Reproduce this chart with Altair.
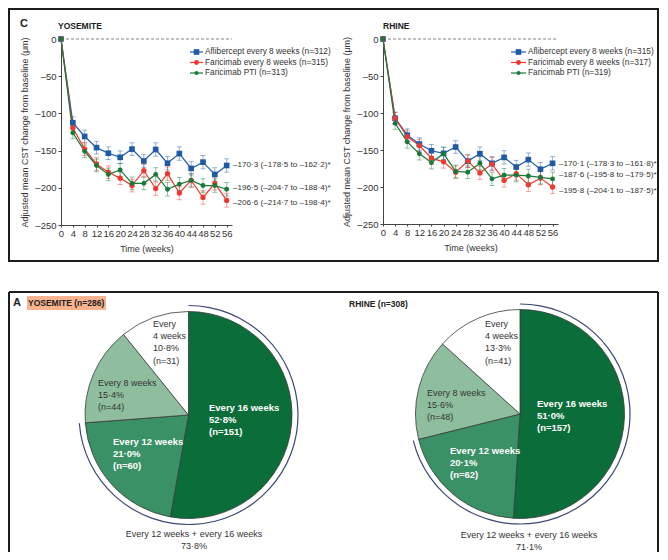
import altair as alt
import pandas as pd

FONT = "Liberation Sans Narrow, Liberation Sans, Arial"

weeks = [0, 4, 8, 12, 16, 20, 24, 28, 32, 36, 40, 44, 48, 52, 56]
series_keys = ["afl", "far", "pti"]
series_colors = ["#1f5aa6", "#ec3a2e", "#18793a"]

# YOSEMITE – adjusted mean CST change from baseline (µm)
yos_afl = [0, -112.5, -131, -146, -153.5, -159, -148, -164, -148.5, -167, -154, -174, -165.5, -182, -170]
yos_far = [0, -119.5, -148, -168, -179, -187, -197, -177, -201, -181, -207, -190, -213, -194, -217]
yos_pti = [0, -126, -151, -170, -182, -176, -194, -194, -182, -202, -195, -190, -197, -197, -202]
yos_err = [0, 8, 8.5, 8.5, 8.5, 8.5, 8.5, 8.5, 9, 9, 9, 9, 9, 9, 9]

# RHINE
rhi_afl = [0, -107, -130, -142, -151, -154.5, -146, -165, -155, -168, -160, -173, -163, -176, -168]
rhi_far = [0, -107, -132, -144, -161, -166, -180, -165, -181, -169, -191, -182, -197, -188, -200]
rhi_pti = [0, -114, -139, -155, -167, -155, -179, -180, -168, -189, -184, -184, -185, -187, -189]
rhi_err = [0, 8, 8.5, 8.5, 8.5, 8.5, 8.5, 8.5, 9, 9, 9, 9, 9, 9, 9]

yos_legend = ["Aflibercept every 8 weeks (n=312)", "Faricimab every 8 weeks (n=315)", "Faricimab PTI (n=313)"]
rhi_legend = ["Aflibercept every 8 weeks (n=315)", "Faricimab every 8 weeks (n=317)", "Faricimab PTI (n=319)"]

yos_end_labels = ["–170·3 (–178·5 to –162·2)*", "–196·5 (–204·7 to –188·4)*", "–206·6 (–214·7 to –198·4)*"]
yos_end_y = [-170, -200, -220]
rhi_end_labels = ["–170·1 (–178·3 to –161·8)*", "–187·6 (–195·8 to –179·5)*", "–195·8 (–204·1 to –187·5)*"]
rhi_end_y = [-168.5, -183.5, -205]

# Pie: treatment intervals at week 52
pie_keys = ["q16", "q12", "q8", "q4"]
pie_names = ["Every 16 weeks", "Every 12 weeks", "Every 8 weeks", "Every 4 weeks"]
pie_colors = ["#0b6d3a", "#3a9165", "#8fbe9f", "#ffffff"]
yos_pct = [52.8, 21.0, 15.4, 10.8]
yos_n = [151, 60, 44, 31]
rhi_pct = [51.0, 20.1, 15.6, 13.3]
rhi_n = [157, 62, 48, 41]

YTITLE = "Adjusted mean CST change from baseline (μm)"
cscale = alt.Scale(domain=series_keys + pie_keys, range=series_colors + pie_colors)


def fmt(v):
    return f"{v:.1f}".replace(".", "·")


def one():
    return pd.DataFrame({"k": [0]})


def txt(x, y, text, size=8.5, weight="normal", color="#333333", align="left",
        baseline="middle", lh=None):
    kw = dict(align=align, baseline=baseline, fontSize=size, fontWeight=weight,
              color=color, font=FONT)
    if lh:
        kw["lineHeight"] = lh
    return alt.Chart(one()).mark_text(**kw).encode(
        x=alt.value(x), y=alt.value(y), text=alt.value(text))


def panel(W, H, series_vals, err, leg_labels, leg_geom, end_labels, end_ys,
          pct, counts, pie_c, pie_r, br_r, lab_pos, bottom_pos, extra):
    xs = alt.Scale(domain=[0, 57.8], nice=False, zero=False)
    ys = alt.Scale(domain=[-250, 0], nice=False, zero=False)
    xax = alt.Axis(values=weeks, grid=False, tickSize=2, labelPadding=1, titlePadding=7,
                   labelFontSize=9.5, labelFlush=False, labelOverlap=False)
    yax = alt.Axis(values=[0, -50, -100, -150, -200, -250], grid=False, tickSize=3,
                   labelPadding=2, titlePadding=5, labelFontSize=9.5,
                   labelExpr="datum.value == 0 ? '0' : '–' + format(abs(datum.value), 'd')")

    def X(f):
        return alt.X(f"{f}:Q", scale=xs, axis=xax, title="Time (weeks)")

    def Y(f):
        return alt.Y(f"{f}:Q", scale=ys, axis=yax, title=YTITLE)

    rows = []
    for key, vals in zip(series_keys, series_vals):
        for w, v, e in zip(weeks, vals, err):
            rows.append(dict(week=w, series=key, val=v, lo=v - e, hi=v + e))
    df = pd.DataFrame(rows)
    color = alt.Color("series:N", scale=cscale, legend=None)
    base = alt.Chart(df)
    eb = base.transform_filter("datum.week > 0")

    layers = list(extra)
    layers.append(alt.Chart(pd.DataFrame({"z": [0]})).mark_rule(
        strokeDash=[3, 2], color="#666666", strokeWidth=0.8).encode(
        y=Y("z"), x=alt.value(0), x2=alt.value(W)))
    layers.append(eb.mark_rule(strokeWidth=0.9, opacity=0.5).encode(
        x=X("week"), y=Y("lo"), y2="hi:Q", color=color))
    for f in ["lo", "hi"]:
        layers.append(eb.mark_tick(orient="horizontal", size=5, thickness=0.9, opacity=0.5).encode(
            x=X("week"), y=Y(f), color=color))
    layers.append(base.mark_line(strokeWidth=1.2).encode(
        x=X("week"), y=Y("val"), color=color, detail="series:N", order="week:Q"))
    layers.append(base.mark_point(filled=True, opacity=1).encode(
        x=X("week"), y=Y("val"), color=color,
        shape=alt.Shape("series:N", scale=alt.Scale(domain=series_keys, range=["square", "circle", "circle"]), legend=None),
        size=alt.Size("series:O", scale=alt.Scale(domain=series_keys, range=[32, 24, 16]), legend=None)))

    # legend
    lx0, lx1, lxm, lt, ly0, ldy = leg_geom
    shapes = ["square", "circle", "circle"]
    sizes = [32, 24, 16]
    for i, lab in enumerate(leg_labels):
        yy = ly0 + i * ldy
        col = series_colors[i]
        layers.append(alt.Chart(one()).mark_rule(color=col, strokeWidth=1.2).encode(
            x=alt.value(lx0), x2=alt.value(lx1), y=alt.value(yy)))
        layers.append(alt.Chart(one()).mark_point(filled=True, opacity=1, color=col,
                                                  shape=shapes[i], size=sizes[i]).encode(
            x=alt.value(lxm), y=alt.value(yy)))
        layers.append(txt(lt, yy, lab, size=8.3))

    # end labels
    edf = pd.DataFrame({"lab": end_labels, "yv": end_ys})
    layers.append(alt.Chart(edf).mark_text(align="left", baseline="middle", fontSize=8.1,
                                           font=FONT, color="#333333").encode(
        x=alt.value(W + 1), y=Y("yv"), text="lab:N"))

    # pie
    ths = alt.Scale(domain=[0, 100], range=[0, 6.283185])
    pdf = pd.DataFrame({"cat": pie_keys, "pct": pct, "ord": [0, 1, 2, 3]})
    cx, cy = pie_c
    layers.append(alt.Chart(pdf).mark_arc(outerRadius=pie_r, stroke="#3a3a3a", strokeWidth=0.8).encode(
        theta=alt.Theta("pct:Q", stack=True, scale=ths),
        color=alt.Color("cat:N", scale=cscale, legend=None),
        order=alt.Order("ord:Q"),
        x=alt.value(cx), y=alt.value(cy)))
    combo = pct[0] + pct[1]
    bdf = pd.DataFrame({"b0": [0.0], "b1": [combo]})
    layers.append(alt.Chart(bdf).mark_arc(innerRadius=br_r - 0.6, outerRadius=br_r + 0.6,
                                          color="#3d4876").encode(
        theta=alt.Theta("b0:Q", stack=None, scale=ths), theta2="b1:Q",
        x=alt.value(cx), y=alt.value(cy)))

    for i, key in enumerate(pie_keys):
        px, py = lab_pos[i]
        if key == "q4":
            lines = ["Every", "4 weeks", fmt(pct[i]) + "%", f"(n={counts[i]})"]
        else:
            lines = [pie_names[i], fmt(pct[i]) + "%", f"(n={counts[i]})"]
        white = key in ("q16", "q12")
        layers.append(txt(px, py, lines, size=9.5 if white else 9,
                          weight="bold" if white else "normal",
                          color="#ffffff" if white else "#333333",
                          baseline="top", lh=12.2))
    bx, by = bottom_pos
    layers.append(txt(bx, by, ["Every 12 weeks + every 16 weeks", fmt(combo) + "%"], size=9,
                      align="center", baseline="top", lh=12))

    return alt.layer(*layers).properties(width=W, height=H)


FR = "#1c1c1c"
FRX2 = 597
left_extra = [
    # top frame
    alt.Chart(one()).mark_rect(fillOpacity=0, stroke=FR, strokeWidth=2).encode(
        x=alt.value(-52), x2=alt.value(FRX2), y=alt.value(-30), y2=alt.value(222)),
    # bottom frame (open at the bottom)
    alt.Chart(one()).mark_rule(color=FR, strokeWidth=2).encode(
        x=alt.value(-52), x2=alt.value(FRX2), y=alt.value(253)),
    alt.Chart(one()).mark_rule(color=FR, strokeWidth=2).encode(
        x=alt.value(-52), y=alt.value(253), y2=alt.value(513)),
    alt.Chart(one()).mark_rule(color=FR, strokeWidth=2).encode(
        x=alt.value(FRX2), y=alt.value(253), y2=alt.value(513)),
    # highlight behind YOSEMITE (n=286)
    alt.Chart(one()).mark_rect(color="#f9b48f").encode(
        x=alt.value(-34), x2=alt.value(45), y=alt.value(257), y2=alt.value(271)),
    txt(-41, -15, "C", size=11, weight="bold", color="#222222"),
    txt(-3, -13, "YOSEMITE", size=8.5, weight="bold", color="#222222"),
    txt(-48, 264, "A", size=11, weight="bold", color="#222222"),
    txt(-33, 264, "YOSEMITE (n=286)", size=8.5, weight="bold", color="#222222"),
]
right_extra = [
    txt(0, -13, "RHINE", size=8.5, weight="bold", color="#222222"),
    txt(-34, 265, "RHINE (n=308)", size=8.5, weight="bold", color="#222222"),
]

left = panel(171, 186, [yos_afl, yos_far, yos_pti], yos_err, yos_legend,
             (129, 142, 135.5, 144, 13, 10.5), yos_end_labels, yos_end_y,
             yos_pct, yos_n, (127.5, 376), 103.5, 109.5,
             [(148, 364), (52, 398), (37, 340), (92, 281)], (133, 491), left_extra)
right = panel(175, 185, [rhi_afl, rhi_far, rhi_pti], rhi_err, rhi_legend,
              (128, 143, 135.5, 145, 13, 10.5), rhi_end_labels, rhi_end_y,
              rhi_pct, rhi_n, (137, 375), 104.5, 110,
              [(154, 360), (67, 407), (44, 350), (102, 281)], (146, 492), right_extra)

chart = alt.hconcat(left, right, spacing=151, bounds="flush").properties(
    padding=0
).configure_view(stroke=None).configure_axis(
    domainColor="#444444", tickColor="#444444", labelColor="#333333", titleColor="#333333",
    labelFont=FONT, titleFont=FONT, titleFontSize=9, titleFontWeight="normal", domainWidth=1
)

chart.save("out.html", embed_options={"renderer": "svg", "actions": False})
